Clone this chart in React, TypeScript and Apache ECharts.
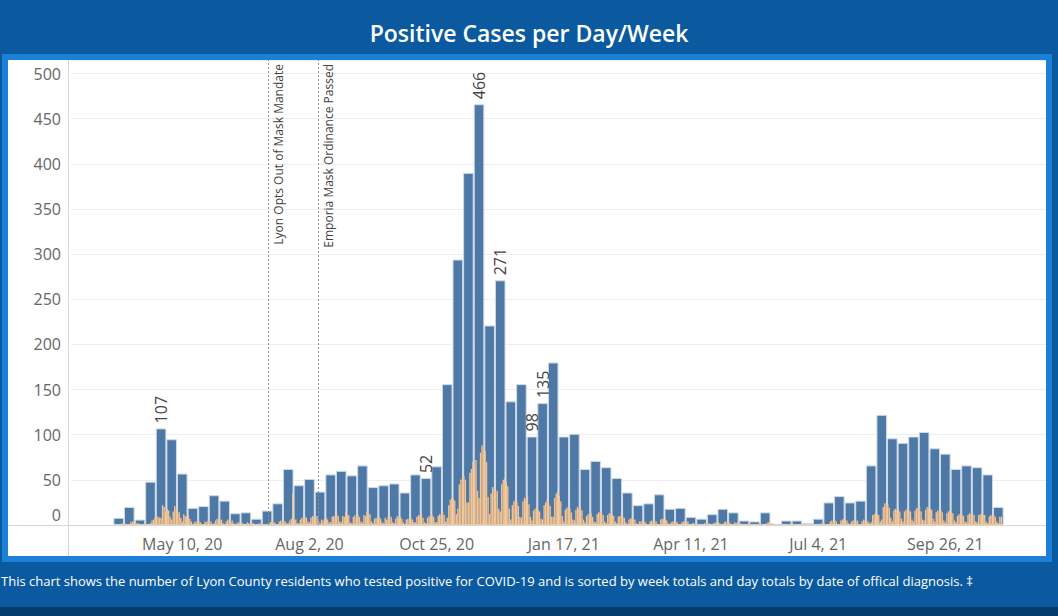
import React, { useEffect, useRef } from 'react';
import * as echarts from 'echarts';

// ---- data ----
const PAD_WEEKS_BEFORE = 4;
const PAD_WEEKS_AFTER = 4;
const MONTHS = ['Jan', 'Feb', 'Mar', 'Apr', 'May', 'Jun', 'Jul', 'Aug', 'Sep', 'Oct', 'Nov', 'Dec'];

// weekly totals, first week = week of Mar 29, 2020
const WEEKLY = [
  8, 20, 6, 48, 107, 95, 57, 19, 21, 33,
  27, 13, 14, 7, 16, 24, 62, 44, 51, 37,
  56, 60, 55, 66, 42, 44, 46, 36, 56, 52,
  65, 156, 294, 390, 466, 221, 271, 137, 156, 98,
  135, 180, 98, 101, 62, 71, 64, 52, 36, 22,
  24, 34, 18, 19, 9, 7, 12, 18, 14, 5,
  4, 14, 1, 5, 5, 2, 7, 25, 32, 25,
  27, 66, 122, 96, 91, 98, 103, 85, 79, 62,
  66, 64, 56, 20,
];

// daily totals, Sun..Sat, one row per week
const DAILY = [
  [0, 1, 2, 1, 2, 1, 1], [1, 3, 4, 3, 5, 2, 2], [0, 1, 1, 2, 1, 1, 0], [2, 5, 6, 8, 10, 9, 8],
  [8, 22, 20, 14, 18, 16, 9], [6, 15, 21, 18, 13, 14, 8], [4, 12, 10, 9, 11, 7, 4], [1, 3, 4, 3, 4, 3, 1],
  [1, 4, 3, 5, 3, 4, 1], [2, 5, 7, 6, 5, 6, 2], [1, 4, 6, 5, 4, 5, 2], [0, 2, 3, 2, 3, 2, 1],
  [1, 3, 2, 3, 2, 2, 1], [0, 1, 2, 1, 1, 1, 1], [1, 2, 3, 4, 2, 3, 1], [1, 4, 5, 3, 5, 4, 2],
  [2, 5, 7, 35, 5, 6, 2], [2, 6, 8, 7, 9, 8, 4], [3, 8, 10, 9, 7, 10, 4], [2, 6, 5, 7, 8, 6, 3],
  [3, 9, 10, 8, 12, 10, 4], [3, 10, 9, 14, 10, 11, 3], [2, 9, 11, 8, 12, 9, 4], [3, 11, 10, 14, 12, 12, 4],
  [2, 7, 8, 6, 9, 7, 3], [2, 8, 6, 9, 7, 9, 3], [2, 7, 10, 8, 9, 7, 3], [1, 6, 7, 5, 8, 6, 3],
  [3, 9, 11, 10, 12, 8, 3], [2, 8, 10, 9, 11, 9, 3], [3, 10, 12, 11, 14, 11, 4], [8, 22, 28, 30, 29, 27, 12],
  [18, 45, 50, 52, 54, 50, 25], [25, 58, 62, 70, 65, 72, 38], [30, 80, 88, 85, 82, 70, 31], [12, 35, 42, 40, 36, 38, 18],
  [15, 45, 50, 52, 48, 43, 18], [6, 22, 26, 28, 25, 21, 9], [8, 26, 30, 28, 32, 23, 9], [5, 16, 18, 20, 17, 15, 7],
  [6, 22, 25, 28, 24, 21, 9], [9, 30, 35, 38, 32, 26, 10], [4, 17, 19, 20, 18, 14, 6], [5, 17, 20, 18, 19, 16, 6],
  [3, 10, 12, 11, 13, 9, 4], [3, 12, 14, 14, 13, 11, 4], [2, 11, 13, 12, 12, 10, 4], [2, 9, 10, 11, 9, 8, 3],
  [1, 6, 7, 8, 6, 6, 2], [1, 4, 4, 5, 4, 3, 1], [1, 4, 5, 4, 5, 4, 1], [1, 6, 7, 6, 7, 5, 2],
  [1, 3, 4, 3, 3, 3, 1], [0, 3, 4, 4, 3, 4, 1], [0, 2, 2, 1, 2, 1, 1], [0, 1, 2, 1, 1, 2, 0],
  [0, 2, 3, 2, 3, 2, 0], [1, 3, 4, 3, 4, 2, 1], [0, 3, 2, 4, 2, 2, 1], [0, 1, 1, 1, 1, 1, 0],
  [0, 1, 0, 1, 1, 1, 0], [0, 2, 3, 4, 2, 2, 1], [0, 0, 0, 1, 0, 0, 0], [0, 1, 1, 0, 2, 1, 0],
  [0, 1, 0, 2, 1, 1, 0], [0, 0, 1, 0, 1, 0, 0], [0, 1, 2, 1, 2, 1, 0], [1, 4, 5, 4, 6, 4, 1],
  [1, 5, 6, 7, 6, 5, 2], [1, 4, 5, 5, 4, 5, 1], [1, 4, 6, 5, 5, 4, 2], [3, 11, 12, 13, 12, 11, 4],
  [6, 20, 24, 22, 23, 19, 8], [4, 16, 18, 17, 19, 15, 7], [4, 15, 17, 18, 16, 15, 6], [4, 16, 19, 18, 20, 15, 6],
  [5, 17, 20, 19, 18, 17, 7], [4, 14, 16, 15, 17, 14, 5], [3, 13, 15, 16, 14, 13, 5], [3, 10, 12, 11, 12, 10, 4],
  [3, 11, 13, 12, 12, 11, 4], [3, 11, 12, 12, 11, 11, 4], [2, 9, 11, 10, 11, 9, 4], [2, 9, 9],
];

const TICK_LABELS = ['May 10, 20', 'Aug 2, 20', 'Oct 25, 20', 'Jan 17, 21', 'Apr 11, 21', 'Jul 4, 21', 'Sep 26, 21'];
const LABELED_WEEKS = ['Apr 26, 20', 'Oct 18, 20', 'Nov 22, 20', 'Dec 6, 20', 'Dec 27, 20', 'Jan 3, 21'];
const EVENTS = [
  { date: '2020-07-06', text: 'Lyon Opts Out of Mask Mandate' },
  { date: '2020-08-08', text: 'Emporia Mask Ordinance Passed' },
];
const TITLE = 'Positive Cases per Day/Week';
const FOOTNOTE =
  'This chart shows the number of Lyon County residents who tested positive for COVID-19 and is sorted by week totals and day totals by date of offical diagnosis. \u2021';

// ---- derived categories ----
const dayFromStart = (offset: number) => new Date(Date.UTC(2020, 2, 29 + offset));
const weekLabel = (d: Date) =>
  `${MONTHS[d.getUTCMonth()]} ${d.getUTCDate()}, ${String(d.getUTCFullYear()).slice(2)}`;
const isoDay = (d: Date) => d.toISOString().slice(0, 10);

const TOTAL_WEEKS = PAD_WEEKS_BEFORE + WEEKLY.length + PAD_WEEKS_AFTER;
const WEEK_NAMES = Array.from({ length: TOTAL_WEEKS }, (_, i) =>
  weekLabel(dayFromStart((i - PAD_WEEKS_BEFORE) * 7)),
);
const DAY_NAMES = Array.from({ length: TOTAL_WEEKS * 7 }, (_, s) =>
  isoDay(dayFromStart(s - PAD_WEEKS_BEFORE * 7 - 3)),
);

const FONT = "'Open Sans', 'Noto Sans', sans-serif";

export default function App() {
  const ref = useRef<HTMLDivElement>(null);

  useEffect(() => {
    if (!ref.current) return;
    const chart = echarts.init(ref.current, undefined, { renderer: 'svg' });

    const barLabel = {
      show: true,
      position: 'top',
      rotate: 90,
      align: 'left',
      verticalAlign: 'middle',
      distance: 5,
      fontSize: 16,
      color: '#444',
      fontFamily: FONT,
    };

    const weekData = WEEK_NAMES.map((name, i) => {
      const w = i - PAD_WEEKS_BEFORE;
      if (w < 0 || w >= WEEKLY.length) return '-';
      const v = WEEKLY[w];
      return LABELED_WEEKS.includes(name) ? { value: v, label: barLabel } : v;
    });

    const dayData: (number | string)[] = DAY_NAMES.map(() => '-');
    DAILY.forEach((week, i) => {
      week.forEach((v, k) => {
        dayData[(PAD_WEEKS_BEFORE + i) * 7 + 3 + k] = v;
      });
    });

    chart.setOption({
      animation: false,
      backgroundColor: '#0b5a9f',
      grid: { left: 71, right: 12, top: 60, bottom: 91, containLabel: false },
      xAxis: [
        {
          type: 'category',
          data: WEEK_NAMES,
          axisLine: { show: false },
          axisTick: { show: false },
          splitLine: { show: false },
          axisLabel: {
            interval: (_i: number, v: string) => TICK_LABELS.includes(v),
            color: '#666',
            fontSize: 16,
            fontFamily: FONT,
            margin: 11,
          },
        },
        { type: 'category', data: DAY_NAMES, show: false },
      ],
      yAxis: {
        type: 'value',
        min: 0,
        max: 515,
        interval: 50,
        axisLine: { show: false },
        axisTick: { show: false },
        splitLine: { lineStyle: { color: '#eeeeee', width: 1 } },
        axisLabel: {
          color: '#666',
          fontSize: 16,
          fontFamily: FONT,
          margin: 10,
          formatter: (v: number) => (v === 0 ? '{z|0}' : v % 50 === 0 ? String(v) : ''),
          rich: { z: { padding: [0, 0, 20, 0], color: '#666', fontSize: 16, fontFamily: FONT } },
        },
      },
      graphic: [
        { type: 'rect', z: -10, shape: { x: 2, y: 54, width: 1050, height: 508 }, style: { fill: '#1c80d8' } },
        { type: 'rect', z: -9, shape: { x: 8, y: 60, width: 1038, height: 496 }, style: { fill: '#ffffff' } },
        { type: 'rect', z: -10, shape: { x: 0, y: 607, width: 1058, height: 9 }, style: { fill: '#033c6c' } },
        { type: 'line', z: 1, shape: { x1: 68.5, y1: 60, x2: 68.5, y2: 556 }, style: { stroke: '#d6d6d6', lineWidth: 1 } },
        { type: 'line', z: 1, shape: { x1: 8, y1: 525.5, x2: 1046, y2: 525.5 }, style: { stroke: '#d6d6d6', lineWidth: 1 } },
        {
          type: 'text',
          z: 5,
          x: 529,
          y: 33,
          style: {
            text: TITLE,
            fill: '#ffffff',
            fontSize: 23,
            fontWeight: 600,
            fontFamily: FONT,
            textAlign: 'center',
            textVerticalAlign: 'middle',
          },
        },
        {
          type: 'text',
          z: 5,
          x: 1,
          y: 581,
          style: {
            text: FOOTNOTE,
            fill: '#ffffff',
            fontSize: 13,
            fontFamily: FONT,
            textAlign: 'left',
            textVerticalAlign: 'middle',
          },
        },
      ],
      series: [
        {
          name: 'Week',
          type: 'bar',
          xAxisIndex: 0,
          yAxisIndex: 0,
          barCategoryGap: '0%',
          z: 2,
          itemStyle: { color: '#4e79a7', borderColor: '#cfdae6', borderWidth: 1 },
          data: weekData,
        },
        {
          name: 'Day',
          type: 'bar',
          xAxisIndex: 1,
          yAxisIndex: 0,
          barWidth: 1.35,
          z: 3,
          itemStyle: { color: '#f7c38e' },
          data: dayData,
          markLine: {
            silent: true,
            symbol: 'none',
            lineStyle: { type: [2, 2], color: '#8f8f8f', width: 1 },
            label: {
              show: true,
              position: 'insideEndBottom',
              formatter: '{b}',
              color: '#444',
              fontSize: 12,
              fontFamily: FONT,
              distance: 4,
            },
            data: EVENTS.map((e) => ({ xAxis: e.date, name: e.text })),
          },
        },
      ],
    });

    return () => chart.dispose();
  }, []);

  return (
    <div
      ref={ref}
      style={{ position: 'fixed', left: 0, top: 0, width: 1058, height: 616 }}
    />
  );
}
